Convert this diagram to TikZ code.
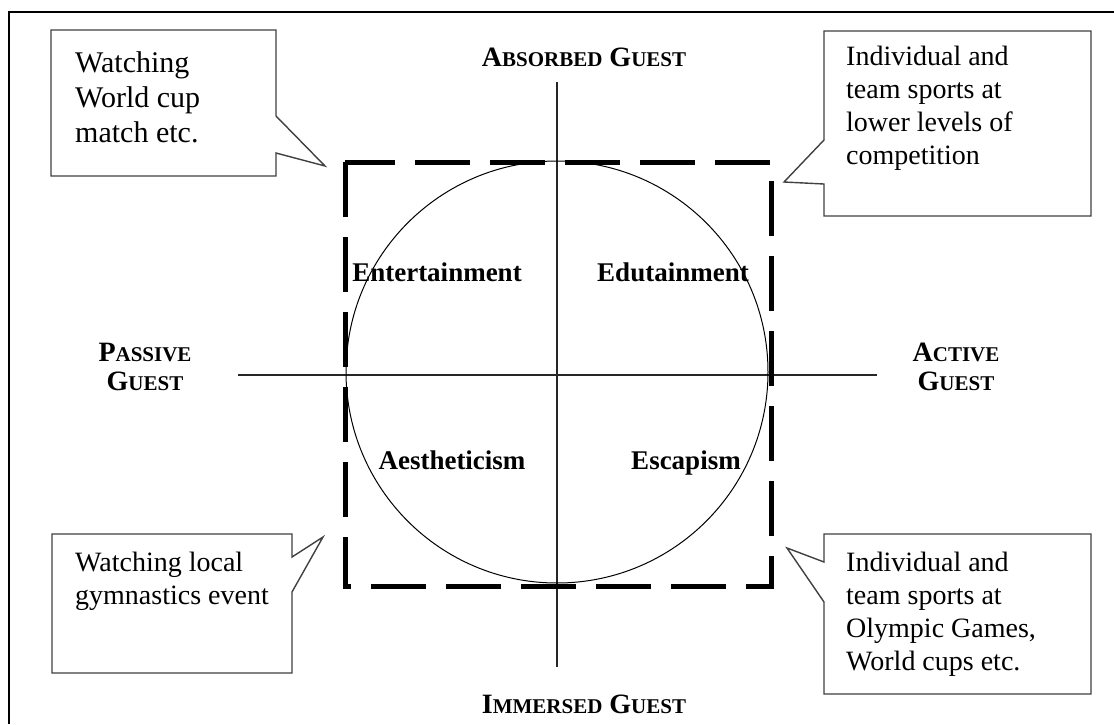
\documentclass[tikz,border=0pt]{standalone}
\usepackage{fontspec}
\setmainfont{Liberation Serif}
% two-size capitals for the axis labels
\newcommand\twocaps[2]{{\fontsize{28}{29}\selectfont #1}{\fontsize{21}{29}\selectfont #2}}
\begin{document}
\begin{tikzpicture}[x=1pt,y=-1pt,
  frame/.style={line width=2pt,black},
  bubble/.style={draw=black!75,line width=1.4pt,fill=white,line join=miter},
  axis/.style={line width=1.1pt,black!85},
  zone/.style={line width=5pt,dash pattern=on 55pt off 20pt},
  calltext/.style={anchor=base west,align=left,inner sep=0pt,font=\fontsize{28}{33}\selectfont},
  quad/.style={anchor=base,inner sep=0pt,font=\fontsize{27}{30}\selectfont\bfseries},
  axlabel/.style={anchor=base,inner sep=0pt,align=center,font=\fontsize{28}{29}\selectfont\bfseries}]
  \useasboundingbox (0,0) rectangle (1114,724);

  % outer frame
  \draw[frame] (9,724) -- (9,12) -- (1114,12);

  % axes and circle
  \draw[axis] (557,82) -- (557,667);
  \draw[axis] (238,375) -- (877,375);
  \draw[line width=1pt] (557,372) circle[radius=211];

  % dashed zone
  \draw[zone] (345,162) rectangle (771,586);

  % callouts
  \draw[bubble] (51,30) -- (276,30) -- (276,116) -- (325,166) -- (276,153) -- (276,176) -- (51,176) -- cycle;
  \draw[bubble] (824,31) -- (1091,31) -- (1091,216) -- (824,216) -- (824,184) -- (784,182) -- (824,140) -- cycle;
  \draw[bubble] (52,534) -- (292,534) -- (292,557) -- (323,537) -- (292,592) -- (292,673) -- (52,673) -- cycle;
  \draw[bubble] (824,534) -- (1091,534) -- (1091,694) -- (824,694) -- (824,602) -- (787,548) -- (824,562) -- cycle;

  % callout texts (anchored at the baseline of their last line)
  \node[calltext,font=\fontsize{30}{35}\selectfont] (tl) at (75,142) {Watching\\World cup\\match etc.};
  \node[calltext] (tr) at (846,164) {Individual and\\team sports at\\lower levels of\\competition};
  \node[calltext] (bl) at (75,604) {Watching local\\gymnastics event};
  \node[calltext] (br) at (846,670) {Individual and\\team sports at\\Olympic Games,\\World cups etc.};

  % quadrant names
  \node[quad] (ent) at (437,281) {Entertainment};
  \node[quad] (edu) at (673,281) {Edutainment};
  \node[quad] (aes) at (452,469) {Aestheticism};
  \node[quad] (esc) at (686,469) {Escapism};

  % axis labels
  \node[axlabel] (top) at (584,66) {\twocaps{A}{BSORBED} \twocaps{G}{UEST}};
  \node[axlabel] (bot) at (584,713) {\twocaps{I}{MMERSED} \twocaps{G}{UEST}};
  \node[axlabel] (left) at (145,390) {\twocaps{P}{ASSIVE}\\\twocaps{G}{UEST}};
  \node[axlabel] (right) at (956,390) {\twocaps{A}{CTIVE}\\\twocaps{G}{UEST}};
\end{tikzpicture}
\end{document}
